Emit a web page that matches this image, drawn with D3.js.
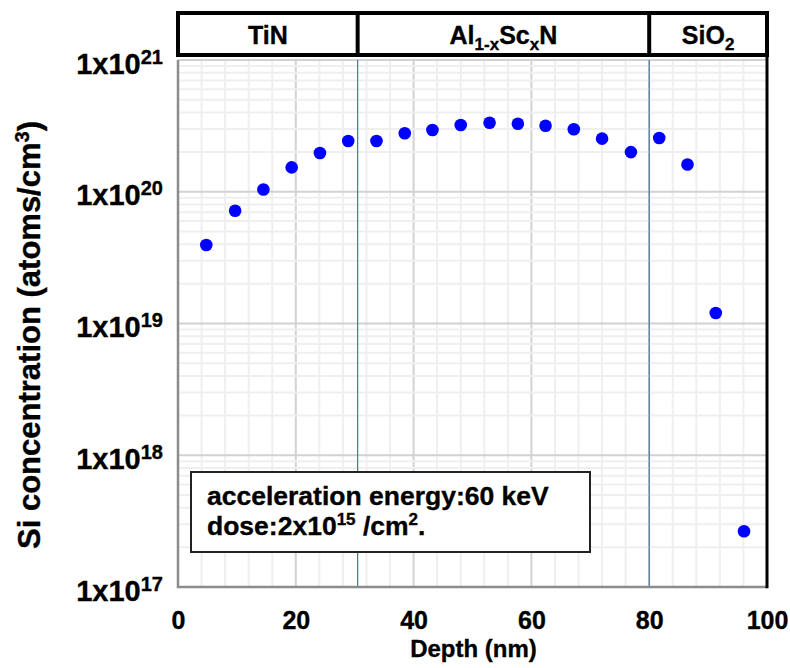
<!DOCTYPE html>
<html>
<head>
<meta charset="utf-8">
<script src="https://cdn.jsdelivr.net/npm/d3@7/dist/d3.min.js"></script>
<style>
  html, body { margin: 0; padding: 0; background: #fff; }
  svg { display: block; font-family: "Liberation Sans", Arial, sans-serif; font-weight: bold; }
  svg text { stroke: #000; stroke-width: 0.35px; }
</style>
</head>
<body>
<svg id="chart" width="790" height="668"></svg>
<script>
// Si depth profile: depth (nm) and concentration (atoms/cm^3)
const depth = [4.8, 9.7, 14.5, 19.3, 24.1, 28.9, 33.7, 38.5, 43.2, 48.0,
               52.9, 57.7, 62.4, 67.2, 72.0, 76.9, 81.7, 86.5, 91.3, 96.1];
const siConc = [3.94e19, 7.17e19, 1.04e20, 1.53e20, 1.97e20, 2.43e20, 2.43e20, 2.78e20, 2.94e20, 3.21e20,
                3.34e20, 3.28e20, 3.17e20, 2.98e20, 2.53e20, 2.0e20, 2.56e20, 1.61e20, 1.2e19, 2.65e17];

// Layer stack along depth
const layerNames = ["TiN", "Al1-xScxN", "SiO2"];
const layerEdges = [0, 30.5, 80, 100];

// Axis ticks
const xTicks = [0, 20, 40, 60, 80, 100];
const yTicks = [1e17, 1e18, 1e19, 1e20, 1e21];
const yTickExp = ["17", "18", "19", "20", "21"];

const svg = d3.select("#chart");
const plot = { left: 178, right: 767, top: 60, bottom: 587 };

const x = d3.scaleLinear().domain([0, 100]).range([plot.left, plot.right]);
const y = d3.scaleLog().domain([1e17, 1e21]).range([plot.bottom, plot.top]);

// ---- grid ----
const grid = svg.append("g");
const vMinor = d3.range(0, 101, 4);
grid.selectAll(".vmin").data(vMinor).join("line")
  .attr("x1", d => x(d)).attr("x2", d => x(d))
  .attr("y1", plot.top).attr("y2", plot.bottom)
  .attr("stroke", d => d % 20 === 0 ? "#d2d2d2" : "#efefef")
  .attr("stroke-width", 2);

const hMinor = [];
for (let e = 17; e < 21; e++) for (let m = 2; m <= 9; m++) hMinor.push(m * Math.pow(10, e));
grid.selectAll(".hmin").data(hMinor).join("line")
  .attr("x1", plot.left).attr("x2", plot.right)
  .attr("y1", d => y(d)).attr("y2", d => y(d))
  .attr("stroke", "#efefef").attr("stroke-width", 2);
grid.selectAll(".hmaj").data(yTicks).join("line")
  .attr("x1", plot.left).attr("x2", plot.right)
  .attr("y1", d => y(d)).attr("y2", d => y(d))
  .attr("stroke", "#d2d2d2").attr("stroke-width", 2);

// ---- layer boundaries ----
svg.append("g").selectAll("line").data(layerEdges.slice(1, 3)).join("line")
  .attr("x1", d => x(d)).attr("x2", d => x(d))
  .attr("y1", plot.top).attr("y2", plot.bottom)
  .attr("stroke", "#4a6fb5").attr("stroke-width", 1.2);

// ---- frame ----
svg.append("path")
  .attr("d", `M${plot.left},${plot.top} V${plot.bottom} H${plot.right}`)
  .attr("fill", "none").attr("stroke", "#8c8c8c").attr("stroke-width", 2.5);
svg.append("line")
  .attr("x1", plot.right).attr("x2", plot.right)
  .attr("y1", plot.top - 4).attr("y2", plot.bottom + 1.2)
  .attr("stroke", "#000").attr("stroke-width", 3);

// ---- points ----
svg.append("g").selectAll("circle").data(depth.map((d, i) => [d, siConc[i]])).join("circle")
  .attr("cx", d => x(d[0])).attr("cy", d => y(d[1]))
  .attr("r", 6.3).attr("fill", "#0000ff");

// ---- header with layer names ----
const head = svg.append("g");
const headTop = 13, headBot = 55;
head.append("rect")
  .attr("x", x(0)).attr("y", headTop)
  .attr("width", x(100) - x(0)).attr("height", headBot - headTop)
  .attr("fill", "#fff").attr("stroke", "#000").attr("stroke-width", 4);
head.selectAll("line").data(layerEdges.slice(1, 3)).join("line")
  .attr("x1", d => x(d)).attr("x2", d => x(d))
  .attr("y1", headTop).attr("y2", headBot)
  .attr("stroke", "#000").attr("stroke-width", 4);

function layerLabel(t, cx) {
  const el = head.append("text").attr("x", cx).attr("y", 44)
    .attr("text-anchor", "middle").attr("font-size", 25).attr("fill", "#000");
  if (t === "Al1-xScxN") {
    el.append("tspan").text("Al");
    el.append("tspan").attr("font-size", 17).attr("dy", 6).text("1-x");
    el.append("tspan").attr("dy", -6).text("Sc");
    el.append("tspan").attr("font-size", 17).attr("dy", 6).text("x");
    el.append("tspan").attr("dy", -6).text("N");
  } else if (t === "SiO2") {
    el.append("tspan").text("SiO");
    el.append("tspan").attr("font-size", 17).attr("dy", 6).text("2");
  } else {
    el.text(t);
  }
}
layerNames.forEach((n, i) => layerLabel(n, (x(layerEdges[i]) + x(layerEdges[i + 1])) / 2));

// ---- axes ----
const xAxis = svg.append("g")
  .attr("transform", `translate(0,${plot.bottom})`)
  .call(d3.axisBottom(x).tickValues(xTicks).tickSize(0).tickPadding(24).tickFormat(d3.format("d")));
xAxis.select(".domain").remove();
xAxis.selectAll("text").attr("font-size", 25).attr("font-family", null).attr("fill", "#000");

const yAxis = svg.append("g")
  .attr("transform", `translate(${plot.left},0)`)
  .call(d3.axisLeft(y).tickValues(yTicks).tickSize(0).tickPadding(15).tickFormat(() => ""));
yAxis.select(".domain").remove();
yAxis.selectAll("text")
  .attr("font-size", 29).attr("font-family", null).attr("fill", "#000").attr("dy", "0.45em")
  .each(function (d, i) {
    const t = d3.select(this);
    t.append("tspan").text("1x10");
    t.append("tspan").attr("font-size", 20).attr("dy", -10).text(yTickExp[i]);
  });

// ---- axis titles ----
svg.append("text")
  .attr("x", (plot.left + plot.right) / 2 + 1).attr("y", 657)
  .attr("text-anchor", "middle").attr("font-size", 24).text("Depth (nm)");

const yt = svg.append("text")
  .attr("transform", `translate(40,335) rotate(-90)`)
  .attr("text-anchor", "middle").attr("font-size", 31);
yt.append("tspan").text("Si concentration (atoms/cm");
yt.append("tspan").attr("font-size", 20).attr("dy", -11).text("3");
yt.append("tspan").attr("dy", 11).text(")");

// ---- implant conditions box ----
const note = svg.append("g");
note.append("rect")
  .attr("x", 191).attr("y", 472).attr("width", 399).attr("height", 80)
  .attr("fill", "#fff").attr("stroke", "#222").attr("stroke-width", 2);
note.append("text").attr("x", 207).attr("y", 505).attr("font-size", 26.5)
  .text("acceleration energy:60 keV");
const l2 = note.append("text").attr("x", 207).attr("y", 535).attr("font-size", 26.5);
l2.append("tspan").text("dose:2x10");
l2.append("tspan").attr("font-size", 17).attr("dy", -10).text("15");
l2.append("tspan").attr("dy", 10).text(" /cm");
l2.append("tspan").attr("font-size", 17).attr("dy", -10).text("2");
l2.append("tspan").attr("dy", 10).text(".");
</script>
</body>
</html>
